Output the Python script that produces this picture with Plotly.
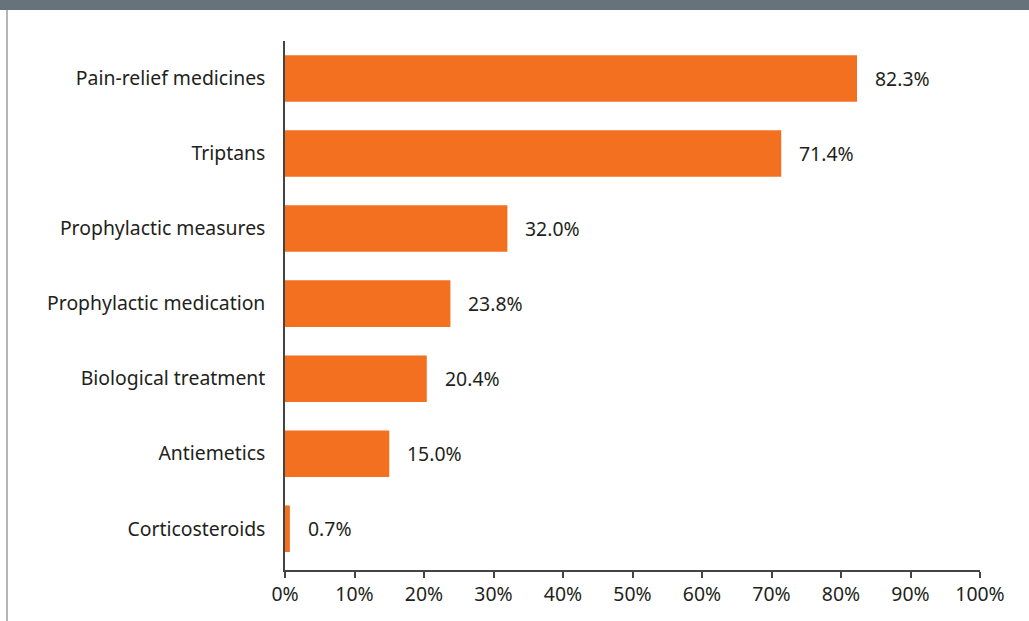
import plotly.graph_objects as go

categories = ["Pain-relief medicines", "Triptans", "Prophylactic measures",
              "Prophylactic medication", "Biological treatment", "Antiemetics",
              "Corticosteroids"]
values = [82.3, 71.4, 32.0, 23.8, 20.4, 15.0, 0.7]
tick_vals = [0, 10, 20, 30, 40, 50, 60, 70, 80, 90, 100]
tick_text = [f"{v}%" for v in tick_vals]

W, H = 1029, 621
L, R, T, B = 285, 49, 41, 51
pw, ph = W - L - R, H - T - B

FONT = "Noto Sans"
TXT = "#231f20"
FS = 19.4

fig = go.Figure()
fig.add_trace(go.Bar(
    y=categories, x=values, orientation="h",
    marker=dict(color="#f37021", line=dict(width=0)),
    width=0.62, hoverinfo="skip",
))

for c, v in zip(categories, values):
    fig.add_annotation(x=v, y=c, text=f"{v:.1f}%", showarrow=False,
                       xanchor="left", xshift=16,
                       font=dict(family=FONT, size=FS, color=TXT))

def px_x(p):
    return (p - L) / pw

def px_y(p):
    return (H - B - p) / ph

fig.add_shape(type="rect", xref="paper", yref="paper",
              x0=px_x(0), x1=px_x(W), y0=px_y(10), y1=px_y(0),
              fillcolor="#67737a", line=dict(width=0), layer="above")
fig.add_shape(type="line", xref="paper", yref="paper",
              x0=px_x(7), x1=px_x(7), y0=px_y(10), y1=px_y(H),
              line=dict(color="#b5b5b5", width=2))

fig.update_layout(
    width=W, height=H, margin=dict(l=L, r=R, t=T, b=B),
    paper_bgcolor="white", plot_bgcolor="white", showlegend=False,
    font=dict(family=FONT, size=FS, color=TXT),
)
fig.update_xaxes(range=[0, 100], tickvals=tick_vals, ticktext=tick_text,
                 showgrid=False, zeroline=False, showline=True,
                 linecolor="#444", linewidth=1.5, ticks="outside",
                 ticklen=6, tickcolor="#444", tickwidth=1.5,
                 tickfont=dict(family=FONT, size=FS, color=TXT))
fig.update_yaxes(range=[6.55, -0.5], showgrid=False,
                 zeroline=False, showline=True, linecolor="#444",
                 linewidth=1.5, ticks="", ticklabelstandoff=14,
                 tickfont=dict(family=FONT, size=FS, color=TXT))

fig.write_html("out.html")
